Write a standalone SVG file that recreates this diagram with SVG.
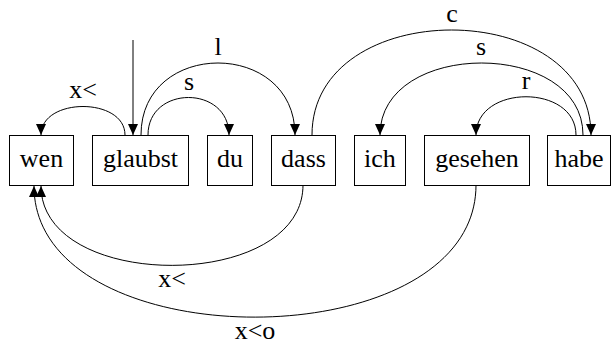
<svg xmlns="http://www.w3.org/2000/svg" width="611" height="344" viewBox="0 0 611 344">
<defs>
<style>
.box{fill:#fff;stroke:#000;stroke-width:1}
.t{font-family:'Liberation Serif','Times New Roman','DejaVu Serif','Noto Serif',serif;font-size:26px;fill:#000;text-anchor:middle}
.e{fill:none;stroke:#000;stroke-width:1}
</style>
<marker id="ah" markerUnits="userSpaceOnUse" markerWidth="12" markerHeight="10" viewBox="0 0 12 10" refX="11" refY="5" orient="auto">
<path d="M0,0 L11,5 L0,10 Z" fill="#000"/>
</marker>
</defs>
<rect width="611" height="344" fill="#fff"/>
<g id="connectors">
<path class="e" d="M133,40 L133,135" marker-end="url(#ah)"/>
<path class="e" d="M125,135 C125,97 41,97 41,135" marker-end="url(#ah)"/>
<path class="e" d="M141,135 C141,39 295,39 295,135" marker-end="url(#ah)"/>
<path class="e" d="M148,135 C148,85 229,85 229,135" marker-end="url(#ah)"/>
<path class="e" d="M312,135 C312,-5 591,-5 591,135" marker-end="url(#ah)"/>
<path class="e" d="M583,135 C583,39 380,39 380,135" marker-end="url(#ah)"/>
<path class="e" d="M576,135 C576,84 476,84 476,135" marker-end="url(#ah)"/>
<path class="e" d="M303,185 C303,292 41,292 41,186" marker-end="url(#ah)"/>
<path class="e" d="M476,185 C476,361 34,361 34,186" marker-end="url(#ah)"/>
<text class="t" x="83" y="98">x&lt;</text>
<text class="t" x="218" y="55">l</text>
<text class="t" x="189" y="90">s</text>
<text class="t" x="452" y="22">c</text>
<text class="t" x="481" y="55">s</text>
<text class="t" x="526" y="89">r</text>
<text class="t" x="172" y="287">x&lt;</text>
<text class="t" x="255" y="339">x&lt;o</text>
</g>
<g id="n-wen"><rect class="box" x="9.5" y="135.5" width="64" height="50"/><text class="t" x="41.5" y="167">wen</text></g>
<g id="n-glaubst"><rect class="box" x="92.5" y="135.5" width="96" height="50"/><text class="t" x="140.5" y="167">glaubst</text></g>
<g id="n-du"><rect class="box" x="207.5" y="135.5" width="45" height="50"/><text class="t" x="230" y="167">du</text></g>
<g id="n-dass"><rect class="box" x="271.5" y="135.5" width="64" height="50"/><text class="t" x="303.5" y="167">dass</text></g>
<g id="n-ich"><rect class="box" x="354.5" y="135.5" width="51" height="50"/><text class="t" x="380" y="167">ich</text></g>
<g id="n-gesehen"><rect class="box" x="424.5" y="135.5" width="105" height="50"/><text class="t" x="477" y="167">gesehen</text></g>
<g id="n-habe"><rect class="box" x="547.5" y="135.5" width="63" height="50"/><text class="t" x="579" y="167">habe</text></g>
</svg>
